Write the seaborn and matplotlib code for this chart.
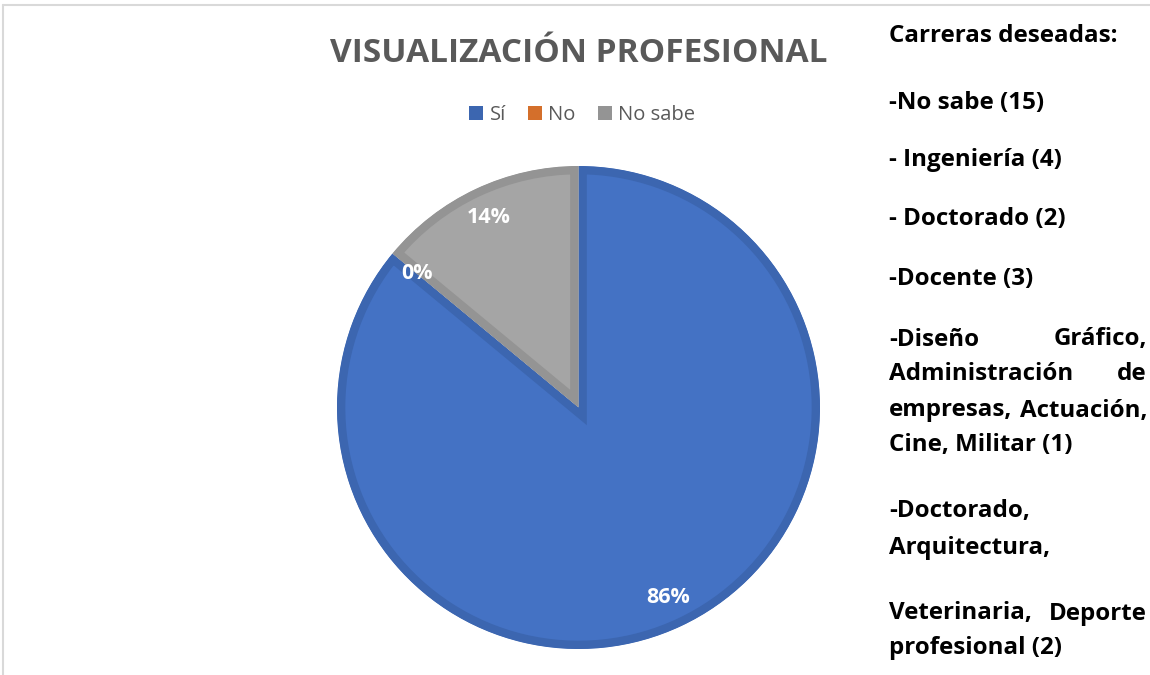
import matplotlib
matplotlib.use("Agg")
import matplotlib.pyplot as plt
import seaborn as sns
from matplotlib.patches import Patch
from matplotlib.lines import Line2D

# ------------------------------------------
# Style
# ------------------------------------------
sns.set_style("white")
plt.rcParams["font.family"] = ["Open Sans", "DejaVu Sans"]

# ------------------------------------------
# Data
# ------------------------------------------
labels = ["Sí", "No", "No sabe"]
percentages = [86, 0, 14]
fill_colors = ["#4472C4", "#ED7D31", "#A5A5A5"]
edge_colors = ["#3C66B0", "#D46F2B", "#949494"]

chart_title = "VISUALIZACIÓN PROFESIONAL"

# side note: (text, justified)
side_lines = [
    ("Carreras deseadas:", False),
    ("-No sabe (15)", False),
    ("- Ingeniería (4)", False),
    ("- Doctorado (2)", False),
    ("-Docente (3)", False),
    ("-Diseño Gráfico,", True),
    ("Administración de", True),
    ("empresas, Actuación,", True),
    ("Cine, Militar (1)", False),
    ("-Doctorado,", False),
    ("Arquitectura,", False),
    ("Veterinaria, Deporte", True),
    ("profesional (2)", False),
]
side_centers = [34, 100, 157, 217, 277, 337, 372, 408, 443, 509, 545, 611, 646]

W, H = 1150, 675

# ------------------------------------------
# Figure
# ------------------------------------------
fig = plt.figure(figsize=(W / 100, H / 100), dpi=100)
fig.patch.set_facecolor("white")

cx, cy, r = 578.5, 407.5, 241.5
ax = fig.add_axes([(cx - r) / W, (H - cy - r) / H, 2 * r / W, 2 * r / H])

wedges, texts, autotexts = ax.pie(
    percentages,
    colors=fill_colors,
    startangle=90,
    counterclock=False,
    radius=1.0,
    autopct="%1.0f%%",
    pctdistance=0.87,
    wedgeprops=dict(linewidth=12),
    textprops=dict(color="white", fontweight="bold", fontsize=15.5),
)
# inner border: stroke clipped to the wedge itself
for w, ec, v in zip(wedges, edge_colors, percentages):
    w.set_edgecolor(ec)
    w.set_clip_on(True)
    w.set_clip_path(w)
    if v == 0:
        w.set_linewidth(0)
ax.set_xlim(-1, 1)
ax.set_ylim(-1, 1)
ax.set_aspect("equal")
ax.axis("off")

# title
fig.text(cx / W, 1 - 62 / H, chart_title, ha="center", va="baseline",
         fontsize=24, fontweight="bold", color="#595959")

# legend
handles = [Patch(facecolor=c, edgecolor="none") for c in edge_colors]
fig.legend(handles, labels, loc="center", bbox_to_anchor=(582 / W, 1 - 115 / H),
           ncol=3, frameon=False, fontsize=14.5, handlelength=0.7, handleheight=0.7,
           handletextpad=0.3, columnspacing=1.1, labelcolor="#595959")

# side note text
x0, x1 = 889 / W, 1147 / W
for (txt, justified), yc in zip(side_lines, side_centers):
    yb = 1 - (yc + 8.5) / H
    kw = dict(va="baseline", fontsize=17.4, fontweight="bold", color="black")
    if justified:
        first, last = txt.rsplit(" ", 1)
        fig.text(x0, yb, first, ha="left", **kw)
        fig.text(x1, yb, last, ha="right", **kw)
    else:
        fig.text(x0, yb, txt, ha="left", **kw)

# frame lines of the chart area
fig.add_artist(Line2D([3 / W, 1], [1 - 5 / H, 1 - 5 / H], color="#D9D9D9", lw=1.5))
fig.add_artist(Line2D([3 / W, 3 / W], [0, 1 - 5 / H], color="#D9D9D9", lw=1.5))

fig.savefig("out.png", dpi=100)
